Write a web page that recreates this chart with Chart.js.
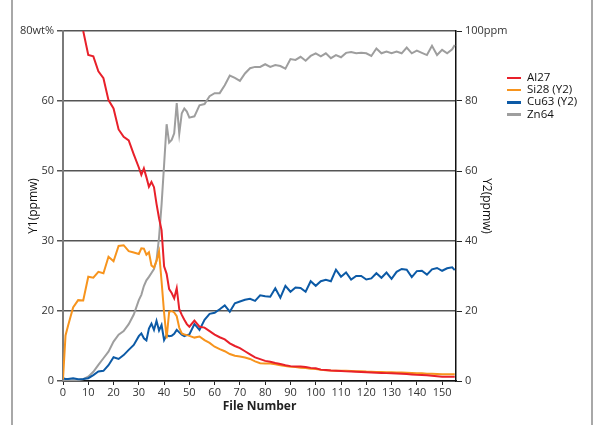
<!DOCTYPE html>
<html>
<head>
<meta charset="utf-8">
<script src="https://cdn.jsdelivr.net/npm/chart.js@4/dist/chart.umd.min.js"></script>
<style>
    body { margin: 0; background: #fff; }
    #wrap { position: relative; width: 596px; height: 425px; }
    #frame { position: absolute; left: 11px; top: 0; width: 578px; height: 425px;
        border-left: 2px solid #a8a8a8; border-right: 2px solid #a8a8a8; }
    #chart { position: absolute; left: 0; top: 0; }
    #legend { position: absolute; left: 507px; top: 71px; font: 11.5px 'Open Sans', sans-serif; color: #111; }
    #legend div { height: 12.2px; line-height: 12.2px; white-space: nowrap; }
    #legend span { display: inline-block; width: 14px; height: 2.5px; margin-right: 6px; vertical-align: middle; }
</style>
</head>
<body>
<div id="wrap">
    <div id="frame"></div>
    <canvas id="chart" width="596" height="425"></canvas>
    <div id="legend"></div>
</div>
<script>
// File numbers (x)
const fileNumbers = [0, 1, 2, 4, 6, 8, 10, 12, 14, 16, 18, 20, 22, 24, 26, 28,
    30, 31, 32, 33, 34, 35, 36, 37, 38, 39, 40, 41, 42, 43, 44, 45, 46, 47, 48, 49, 50,
    52, 54, 56, 58, 60, 62, 64, 66, 68, 70, 72, 74, 76, 78, 80, 82, 84, 86, 88, 90,
    92, 94, 96, 98, 100, 102, 104, 106, 108, 110, 112, 114, 116, 118, 120, 122, 124,
    126, 128, 130, 132, 134, 136, 138, 140, 142, 144, 146, 148, 150, 152, 154, 155];

// Y1 series
const al27 = [null, null, null, null, null, 80, 74.5, 74.2, 70.8, 69.2, 64.2, 62.3, 57.5, 55.8, 55.0, 51.8,
    48.8, 47.1, 48.6, 46.6, 44.4, 45.5, 44.3, 40.5, 37.2, 34.5, 26.2, 24.5, 21.0, 20.1, 18.9, 21.2, 16.4, 15.1, 14.0, 13.0, 12.4,
    13.8, 12.4, 12.2, 11.4, 10.6, 10.0, 9.5, 8.6, 8.0, 7.5, 6.8, 6.1, 5.4, 5.0, 4.6, 4.4, 4.1, 3.9, 3.6, 3.4,
    3.3, 3.3, 3.2, 3.0, 2.9, 2.6, 2.5, 2.4, 2.35, 2.3, 2.2, 2.15, 2.1, 2.05, 2.0, 1.95, 1.9,
    1.85, 1.8, 1.75, 1.7, 1.65, 1.6, 1.5, 1.4, 1.35, 1.3, 1.2, 1.1, 1.0, 1.0, 1.0, 1.0];

const zn64 = [0.2, 0.2, 0.2, 0.2, 0.2, 0.4, 1.0, 2.1, 3.7, 5.2, 6.7, 9.0, 10.6, 11.4, 13.0, 15.2,
    18.5, 19.7, 21.7, 23.0, 23.8, 24.7, 25.6, 27.6, 32.8, 40.3, 49.4, 58.7, 54.5, 55.1, 56.6, 63.5, 56.5, 61.2, 62.3, 61.6, 60.2,
    60.5, 63.0, 63.3, 65.1, 65.8, 65.8, 67.6, 69.8, 69.3, 68.6, 70.3, 71.5, 71.8, 71.8, 72.4, 71.8, 72.2, 72.0, 71.4, 73.6,
    73.4, 74.1, 73.2, 74.3, 74.9, 74.2, 74.9, 73.8, 74.5, 74.0, 75.0, 75.2, 74.9, 75.0, 74.9, 74.3, 76.0,
    74.9, 75.3, 74.9, 75.3, 74.9, 76.2, 74.9, 75.5, 75.0, 74.5, 76.6, 74.5, 75.7, 74.9, 75.8, 76.8];

// Y2 series
const si28 = [0.5, 13, 15.8, 21, 23.1, 23, 29.8, 29.5, 31.2, 30.8, 35.5, 34.2, 38.6, 38.8, 37.1, 36.7,
    36.3, 37.9, 37.8, 36.1, 36.8, 33.0, 32.4, 34.3, 37.0, 28.5, 19.5, 12.2, 19.8, 20.0, 19.6, 18.5, 15.2, 13.6, 13.3, 13.1, 12.9,
    12.4, 12.7, 11.7, 10.9, 9.8, 9.1, 8.5, 7.7, 7.2, 7.0, 6.7, 6.3, 5.6, 5.1, 5.0, 5.0, 4.8, 4.5, 4.3, 4.1,
    4.0, 3.8, 3.7, 3.5, 3.4, 3.2, 3.1, 3.0, 2.95, 2.9, 2.9, 2.85, 2.8, 2.8, 2.7, 2.65, 2.6,
    2.55, 2.5, 2.5, 2.45, 2.4, 2.35, 2.3, 2.2, 2.2, 2.1, 2.05, 2.0, 1.9, 1.9, 1.9, 1.9];

const cu63 = [0.8, 0.6, 0.6, 0.8, 0.5, 0.6, 0.8, 1.7, 2.7, 2.9, 4.5, 6.8, 6.3, 7.4, 8.9, 10.3,
    12.8, 13.6, 12.2, 11.6, 15.0, 16.4, 14.6, 17.2, 14.4, 16.0, 11.7, 13.1, 12.8, 12.9, 13.5, 14.6, 13.9, 13.2, 12.8, 13.1, 13.3,
    16.3, 14.6, 17.5, 19.2, 19.5, 20.5, 21.6, 19.8, 22.2, 22.7, 23.2, 23.5, 22.9, 24.5, 24.2, 24.1, 26.5, 23.8, 27.2, 25.5,
    26.7, 26.6, 25.5, 28.5, 27.2, 28.5, 28.9, 28.5, 31.8, 29.8, 31.0, 29.0, 30.0, 30.0, 29.0, 29.3, 30.8,
    29.5, 31.0, 29.2, 31.2, 32.0, 31.8, 29.7, 31.4, 31.5, 30.4, 31.9, 32.3, 31.5, 32.2, 32.5, 31.7];

// Axis ticks
const xTicks = [0, 10, 20, 30, 40, 50, 60, 70, 80, 90, 100, 110, 120, 130, 140, 150];
const y1Ticks = [0, 16, 32, 48, 64, 80];
const y1Labels = ['0', '20', '30', '50', '60', '80wt%'];
const y2Ticks = [0, 20, 40, 60, 80, 100];
const y2Labels = ['0', '20', '40', '60', '80', '100ppm'];

const seriesNames = ['Al27', 'Si28 (Y2)', 'Cu63 (Y2)', 'Zn64'];
const seriesColors = ['#e8202a', '#f7941d', '#0c5aa6', '#9e9e9e'];

function toPoints(values) {
    return fileNumbers.map((x, i) => ({ x: x, y: values[i] }));
}

Chart.defaults.font.family = "'Open Sans', sans-serif";
Chart.defaults.font.size = 11;
Chart.defaults.color = '#333';

const ctx = document.getElementById('chart').getContext('2d');
new Chart(ctx, {
    type: 'line',
    data: {
        datasets: [
            { label: seriesNames[0], data: toPoints(al27), yAxisID: 'y1', borderColor: seriesColors[0] },
            { label: seriesNames[1], data: toPoints(si28), yAxisID: 'y2', borderColor: seriesColors[1] },
            { label: seriesNames[2], data: toPoints(cu63), yAxisID: 'y2', borderColor: seriesColors[2] },
            { label: seriesNames[3], data: toPoints(zn64), yAxisID: 'y1', borderColor: seriesColors[3] }
        ]
    },
    options: {
        responsive: false,
        animation: false,
        parsing: false,
        spanGaps: false,
        elements: {
            line: { borderWidth: 2, tension: 0 },
            point: { radius: 0 }
        },
        layout: { padding: { left: 16, right: 86, top: 31, bottom: 7 } },
        plugins: { legend: { display: false }, tooltip: { enabled: false } },
        scales: {
            x: {
                type: 'linear',
                min: 0,
                max: 155.5,
                afterBuildTicks: function(scale) { scale.ticks = xTicks.map(v => ({ value: v })); },
                afterFit: function(scale) { scale.height = 37; },
                ticks: { padding: 1, maxRotation: 0, color: '#333' },
                grid: { drawOnChartArea: false, drawTicks: true, tickLength: 4, color: '#222' },
                border: { color: '#111', width: 1.5 },
                title: { display: true, text: 'File Number', color: '#222', font: { size: 12, weight: 'bold' }, padding: { top: 2, bottom: 4 } }
            },
            y1: {
                type: 'linear',
                position: 'left',
                min: 0,
                max: 80,
                afterBuildTicks: function(scale) { scale.ticks = y1Ticks.map(v => ({ value: v })); },
                afterFit: function(scale) { scale.width = 47; },
                ticks: {
                    padding: 3,
                    color: '#333',
                    callback: function(value) { return y1Labels[y1Ticks.indexOf(value)]; }
                },
                grid: { color: '#555', lineWidth: 1.5, tickLength: 6 },
                border: { color: '#7a7a7a', width: 2 },
                title: { display: true, text: 'Y1(ppmw)', color: '#111', font: { size: 12 }, padding: { top: 10, bottom: 4 } }
            },
            y2: {
                type: 'linear',
                position: 'right',
                min: 0,
                max: 100,
                afterBuildTicks: function(scale) { scale.ticks = y2Ticks.map(v => ({ value: v })); },
                afterFit: function(scale) { scale.width = 54; },
                ticks: {
                    padding: 3,
                    color: '#333',
                    callback: function(value) { return y2Labels[y2Ticks.indexOf(value)]; }
                },
                grid: { drawOnChartArea: false, color: '#222', tickLength: 6 },
                border: { color: '#111', width: 1.5 },
                title: { display: true, text: 'Y2(ppmw)', color: '#111', font: { size: 12 }, padding: { top: 16, bottom: 4 } }
            }
        }
    }
});

// Legend
const legend = document.getElementById('legend');
seriesNames.forEach(function(name, i) {
    const row = document.createElement('div');
    row.innerHTML = '<span style="background:' + seriesColors[i] + '"></span>' + name;
    legend.appendChild(row);
});
</script>
</body>
</html>
